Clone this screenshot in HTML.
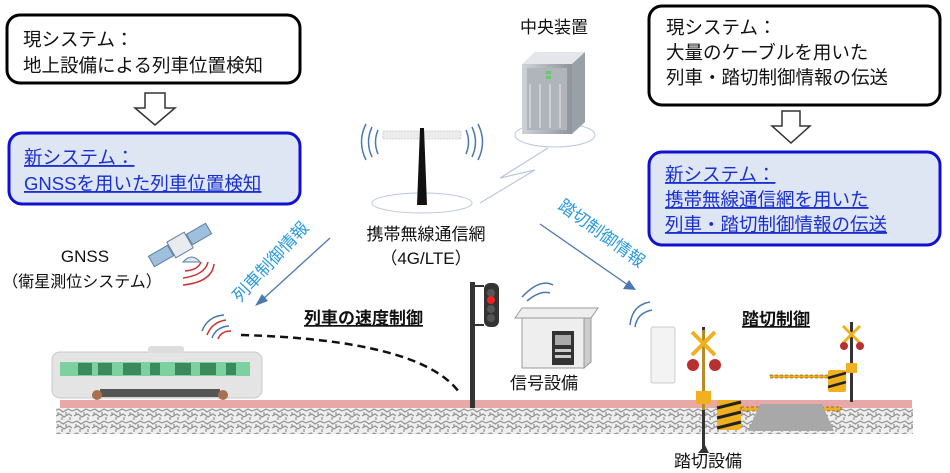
<!DOCTYPE html>
<html><head><meta charset="utf-8"><style>
html,body{margin:0;padding:0;background:#fff;}
svg{display:block;font-family:"Liberation Sans","Noto Sans CJK JP",sans-serif;}
</style></head><body>
<svg width="950" height="473" viewBox="0 0 950 473" xmlns="http://www.w3.org/2000/svg">
<defs>
<pattern id="grav" width="18" height="12" patternUnits="userSpaceOnUse">
<rect width="18" height="12" fill="#efefef"/>
<path d="M0 3 L5 1 L9 4 L14 1 L18 3 M2 8 L6 6 L10 9 L15 6 L18 8 M4 4 L4 7 M12 4 L12 7 M8 9 L8 12 M16 9 L16 12" stroke="#909090" stroke-width="1.2" fill="none"/>
</pattern>
<linearGradient id="srv" x1="0" x2="1"><stop offset="0" stop-color="#cfd3d8"/><stop offset="1" stop-color="#8e949b"/></linearGradient>
</defs>

<rect x="7" y="15" width="293" height="68" rx="13" fill="#fff" stroke="#000" stroke-width="3"/>
<text x="23" y="46" font-size="18.5" fill="#111">現システム：</text>
<text x="23" y="72" font-size="18.5" fill="#111">地上設備による列車位置検知</text>
<path d="M145 93 H165 V108 H175 L155 125 L135 108 H145 Z" fill="#fff" stroke="#333" stroke-width="1.5"/>
<rect x="9" y="133" width="291" height="71" rx="13" fill="#dfe6f3" stroke="#1010d0" stroke-width="3"/>
<text x="24" y="164" font-size="18.5" fill="#1a2fd0" text-decoration="underline">新システム：</text>
<text x="24" y="190" font-size="18.5" fill="#1a2fd0" text-decoration="underline">GNSSを用いた列車位置検知</text>

<rect x="649" y="6" width="291" height="99" rx="13" fill="#fff" stroke="#000" stroke-width="3"/>
<text x="666" y="34" font-size="18.5" fill="#111">現システム：</text>
<text x="666" y="59" font-size="18.5" fill="#111">大量のケーブルを用いた</text>
<text x="666" y="84" font-size="18.5" fill="#111">列車・踏切制御情報の伝送</text>
<path d="M782 111 H800 V126 H810 L791 143 L772 126 H782 Z" fill="#fff" stroke="#333" stroke-width="1.5"/>
<rect x="649" y="152" width="291" height="93" rx="13" fill="#dfe6f3" stroke="#1010d0" stroke-width="3"/>
<text x="665" y="181" font-size="18.5" fill="#1a2fd0" text-decoration="underline">新システム：</text>
<text x="665" y="206" font-size="18.5" fill="#1a2fd0" text-decoration="underline">携帯無線通信網を用いた</text>
<text x="665" y="231" font-size="18.5" fill="#1a2fd0" text-decoration="underline">列車・踏切制御情報の伝送</text>

<text x="520" y="33" font-size="17" fill="#111">中央装置</text>
<ellipse cx="555" cy="135" rx="40" ry="12" fill="none" stroke="#b8c8dc" stroke-width="1"/>
<path d="M522 64 L535 52 L585 52 L572 64 Z" fill="#e4e6ea"/>
<path d="M572 64 L585 52 L585 122 L572 134 Z" fill="#9aa0a8"/>
<rect x="522" y="64" width="50" height="70" fill="url(#srv)"/>
<rect x="527" y="68" width="40" height="62" fill="#b0b5bb"/>
<g stroke="#e8eaee" stroke-width="1"><line x1="530" y1="84" x2="530" y2="128"/><line x1="540" y1="84" x2="540" y2="128"/><line x1="550" y1="84" x2="550" y2="128"/><line x1="560" y1="84" x2="560" y2="128"/></g>
<rect x="546" y="71" width="5" height="3" fill="#6c6"/><rect x="546" y="76" width="5" height="3" fill="#6c6"/>
<path d="M548 148 L500 178 L535 170 L480 203" fill="none" stroke="#b8c8dc" stroke-width="1.2"/>

<ellipse cx="422" cy="203" rx="50" ry="10" fill="none" stroke="#b8c8dc" stroke-width="1"/>
<rect x="383" y="131" width="78" height="8" fill="#ececec" stroke="#ccc" stroke-dasharray="2 1" stroke-width="0.8"/>
<path d="M420 128 L424 128 L427 205 L417 205 Z" fill="#111"/>
<g fill="none" stroke="#4a78b0" stroke-width="1.5">
<path d="M372 127 Q365 142 372 157"/><path d="M366 124 Q357 142 366 160"/><path d="M378 130 Q373 142 378 154"/>
<path d="M472 127 Q479 142 472 157"/><path d="M478 124 Q487 142 478 160"/><path d="M466 130 Q471 142 466 154"/>
</g>
<text x="426" y="240" font-size="17" fill="#111" text-anchor="middle">携帯無線通信網</text>
<text x="426" y="264" font-size="17" fill="#111" text-anchor="middle">（4G/LTE）</text>

<text x="85" y="262" font-size="17" fill="#111" text-anchor="middle">GNSS</text>
<text x="82" y="287" font-size="16" fill="#111" text-anchor="middle">（衛星測位システム）</text>
<g transform="translate(180,245) rotate(-30)">
<rect x="-33" y="-6" width="22" height="12" fill="#9fc0dc" stroke="#5d7fa0"/>
<rect x="11" y="-6" width="22" height="12" fill="#9fc0dc" stroke="#5d7fa0"/>
<rect x="-10" y="-9" width="20" height="18" fill="#e8ecef" stroke="#5d7fa0"/>
</g>
<path d="M183 262 Q192 252 200 262 Z" fill="#dfe6ea" stroke="#5d7fa0"/>
<g fill="none" stroke="#d03030" stroke-width="1.5">
<path d="M183 278 Q205 275 208 262"/><path d="M183 285 Q212 282 214 264"/><path d="M185 271 Q198 270 201 262"/>
</g>

<line x1="330" y1="238" x2="262" y2="300" stroke="#4a78b0" stroke-width="1.3"/>
<path d="M255 306 L262 294 L268 301 Z" fill="#4a78b0"/>
<text transform="translate(240,303) rotate(-47)" font-size="17" fill="#2a9ae0">列車制御情報</text>

<line x1="540" y1="224" x2="628" y2="285" stroke="#4a78b0" stroke-width="1.3"/>
<path d="M636 290 L623 289 L629 280 Z" fill="#4a78b0"/>
<text transform="translate(557,208) rotate(36)" font-size="17" fill="#2a9ae0">踏切制御情報</text>

<rect x="56" y="408" width="857" height="26" fill="url(#grav)"/>
<rect x="60" y="400" width="852" height="8" fill="#e8a8a8"/>

<rect x="52" y="352" width="210" height="46" rx="8" fill="#e4e4e4" stroke="#c8c8c8"/>
<rect x="148" y="346" width="36" height="7" rx="3" fill="#ddd"/>
<rect x="60" y="362" width="190" height="14" fill="#7dd0a0"/>
<g fill="#3a8a5e"><rect x="78" y="363" width="14" height="12"/><rect x="98" y="363" width="14" height="12"/><rect x="123" y="363" width="18" height="12"/><rect x="150" y="363" width="10" height="12"/><rect x="175" y="363" width="16" height="12"/><rect x="200" y="363" width="16" height="12"/><rect x="226" y="363" width="10" height="12"/></g>
<rect x="100" y="389" width="120" height="8" fill="#555"/>
<circle cx="97" cy="395" r="5" fill="#a87050"/><circle cx="223" cy="395" r="5" fill="#a87050"/>
<g fill="none" stroke-width="1.5">
<path d="M207 335 Q212 322 226 320" stroke="#d03030"/><path d="M212 338 Q216 327 229 326" stroke="#4a78b0"/>
<path d="M218 339 Q221 331 231 331" stroke="#d03030"/><path d="M202 331 Q208 316 224 315" stroke="#4a78b0"/>
</g>
<path d="M241 335 Q420 340 459 392" fill="none" stroke="#111" stroke-width="2.5" stroke-dasharray="8 5"/>
<text x="304" y="324" font-size="17" font-weight="bold" fill="#111" text-decoration="underline">列車の速度制御</text>

<rect x="470" y="282" width="5" height="126" fill="#333"/>
<line x1="475" y1="286" x2="484" y2="286" stroke="#333" stroke-width="2"/>
<line x1="475" y1="325" x2="484" y2="325" stroke="#333" stroke-width="2"/>
<rect x="484" y="283" width="15" height="44" rx="6" fill="#333"/>
<circle cx="491" cy="293" r="4" fill="#555"/><circle cx="491" cy="300" r="4" fill="#e22"/><circle cx="491" cy="309" r="4" fill="#555"/><circle cx="491" cy="318" r="4" fill="#555"/>
<g fill="none" stroke="#4a78b0" stroke-width="1.5">
<path d="M522 297 Q540 278 553 285"/><path d="M527 301 Q540 290 550 293"/>
<path d="M630 325 Q632 305 650 302"/><path d="M635 327 Q637 313 652 310"/>
</g>
<path d="M515 318 L522 308 L598 308 L591 318 Z" fill="#eee" stroke="#999"/>
<rect x="522" y="318" width="62" height="50" fill="#eee" stroke="#999"/>
<path d="M584 318 L591 318 L591 362 L584 368 Z" fill="#ccc" stroke="#999"/>
<rect x="552" y="331" width="22" height="34" fill="#333"/><rect x="555" y="335" width="16" height="10" fill="#aaa"/><rect x="555" y="349" width="16" height="3" fill="#ccc"/><rect x="555" y="355" width="16" height="3" fill="#ccc"/>
<text x="510" y="389" font-size="17" fill="#111">信号設備</text>

<rect x="651" y="327" width="24" height="56" rx="2" fill="#f3f3f3" stroke="#ccc"/>

<rect x="702" y="327" width="3" height="126" fill="#333"/>
<rect x="702" y="330" width="3" height="80" fill="#f0b020" opacity="0.7"/>
<line x1="692" y1="332" x2="715" y2="355" stroke="#f0b020" stroke-width="4"/>
<line x1="715" y1="332" x2="692" y2="355" stroke="#f0b020" stroke-width="4"/>
<circle cx="693" cy="365" r="6" fill="#b83030"/><circle cx="715" cy="365" r="6" fill="#b83030"/>
<rect x="696" y="391" width="15" height="13" fill="#f0b020"/>
<path d="M698 453 L709 453 L705 445 Z" fill="#333"/>
<rect x="717" y="400" width="24" height="30" rx="3" fill="#f0b020"/>
<g stroke="#222" stroke-width="3"><line x1="717" y1="408" x2="741" y2="402"/><line x1="717" y1="418" x2="741" y2="412"/><line x1="717" y1="428" x2="741" y2="422"/></g>
<rect x="741" y="407" width="100" height="4" fill="#f0b020" stroke="#333" stroke-dasharray="3 2" stroke-width="0.5"/>
<path d="M748 431 L760 404 L822 404 L834 431 Z" fill="#a8a8a8"/>
<rect x="850" y="322" width="3" height="80" fill="#333"/>
<line x1="843" y1="326" x2="860" y2="343" stroke="#f0b020" stroke-width="3"/>
<line x1="860" y1="326" x2="843" y2="343" stroke="#f0b020" stroke-width="3"/>
<circle cx="844" cy="346" r="4" fill="#b83030"/><circle cx="860" cy="346" r="4" fill="#b83030"/>
<rect x="846" y="363" width="11" height="10" fill="#f0b020"/>
<rect x="770" y="375" width="60" height="3" fill="#f0b020" stroke="#333" stroke-dasharray="3 2" stroke-width="0.5"/>
<rect x="828" y="370" width="18" height="22" rx="2" fill="#f0b020"/>
<g stroke="#222" stroke-width="2.5"><line x1="828" y1="378" x2="846" y2="373"/><line x1="828" y1="387" x2="846" y2="382"/></g>
<text x="742" y="325" font-size="17" font-weight="bold" fill="#111" text-decoration="underline">踏切制御</text>
<text x="674" y="467" font-size="17" fill="#111">踏切設備</text>
</svg>
</body></html>
